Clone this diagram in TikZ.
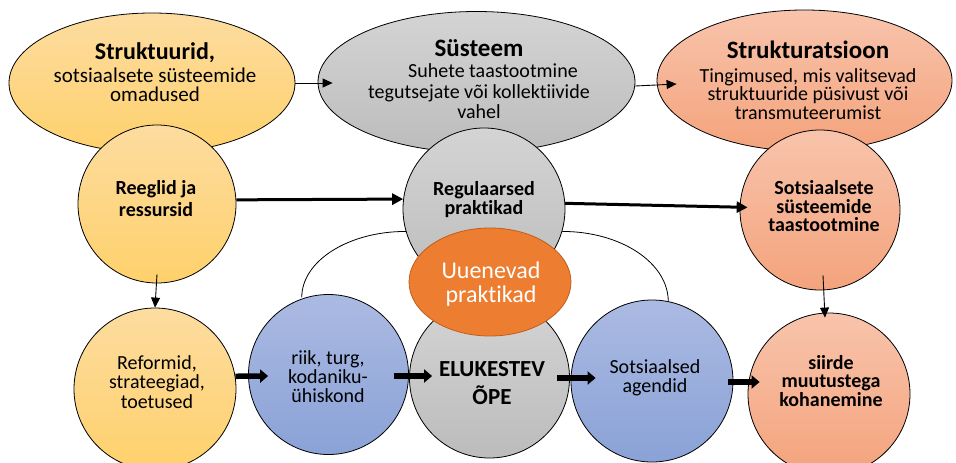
\documentclass[tikz,border=0pt]{standalone}
\usepackage{fontspec}
\setmainfont{Carlito}[Ligatures={NoCommon,NoContextual}]
\usetikzlibrary{shapes.geometric,arrows.meta,calc}
\pgfdeclarelayer{back}
\pgfsetlayers{back,main}

\definecolor{ylwT}{HTML}{FCDCA0}
\definecolor{ylwB}{HTML}{FFD16C}
\definecolor{gryT}{HTML}{D4D4D4}
\definecolor{gryB}{HTML}{BCBCBC}
\definecolor{slmT}{HTML}{F8C4AC}
\definecolor{slmB}{HTML}{F4A37C}
\definecolor{bluT}{HTML}{ABBAE2}
\definecolor{bluB}{HTML}{8AA2D7}
\definecolor{orgFill}{HTML}{ED7D31}
\definecolor{orgLine}{HTML}{C05E1C}

% font size with fixed baseline distance
\newcommand{\setfs}[2]{\fontsize{#1}{#2}\selectfont\lineskiplimit=-20pt\relax}

\begin{document}
\begin{tikzpicture}[x=1pt,y=-1pt,
  outline/.style={draw=black,line width=0.8pt,inner sep=0pt},
  oval/.style={outline,ellipse},
  disc/.style={outline,circle},
  yel/.style={top color=ylwT,bottom color=ylwB},
  gry/.style={top color=gryT,bottom color=gryB},
  slm/.style={top color=slmT,bottom color=slmB},
  blu/.style={top color=bluT,bottom color=bluB},
  lbl/.style={align=center,inner sep=0pt,text=black},
  thinarrow/.style={line width=0.9pt,-{Triangle[length=10pt,width=9pt]}},
  midarrow/.style={line width=3pt,-{Triangle[length=11pt,width=11pt]}},
  bigarrow/.style={line width=5.5pt,-{Triangle[length=8pt,width=13pt]}},
  arcline/.style={line width=0.8pt}
]
\useasboundingbox (0,0) rectangle (956,463);

% ---- top row: concepts ----
\node[oval,yel,minimum width=286pt,minimum height=140pt] (struk) at (152,83) {};
\node[oval,gry,minimum width=317pt,minimum height=141pt] (sys) at (476.5,82) {};
\node[oval,slm,minimum width=295pt,minimum height=141pt] (strat) at (804.5,80.5) {};

% ---- middle row ----
\node[disc,yel,minimum size=158pt] (reeg) at (157,204) {};
\node[disc,gry,minimum size=162pt] (regu) at (484,209) {};
\node[disc,slm,minimum size=160pt] (sots) at (820,210) {};

% feedback arcs behind the circles
\begin{pgfonlayer}{back}
\draw[arcline] (regu.196) arc[start angle=90,end angle=180,x radius=104pt,y radius=66pt];
\draw[arcline] (regu.-16) arc[start angle=90,end angle=0,x radius=106pt,y radius=70pt];
\end{pgfonlayer}

% ---- bottom row ----
\node[disc,yel,minimum size=162pt] (reform) at (155,389) {};
\node[disc,blu,minimum size=160pt] (riik) at (328.5,374.5) {};
\node[disc,gry,minimum size=160pt] (elu) at (489.5,378) {};
\node[disc,blu,minimum size=162pt] (agent) at (652,381) {};
\node[disc,slm,minimum size=162pt] (siirde) at (829,394) {};

% emerging practices
\node[ellipse,draw=orgLine,line width=0.8pt,fill=orgFill,inner sep=0pt,
      minimum width=162pt,minimum height=108pt] (uuen) at (490,282) {};

% ---- texts ----
\node[lbl,font=\setfs{21}{19.5}] (t-struk) at (155,72)
  {{\setfs{24}{24}\bfseries Struktuurid,}\\[3.5pt] sotsiaalsete süsteemide\\ omadused};
\node[lbl,font=\setfs{20}{20.5}] (t-sys) at (479,79.5)
  {{\setfs{25}{25}\bfseries Süsteem}\\[0.5pt] \hspace*{28pt}Suhete taastootmine\\ tegutsejate või kollektiivide\\ vahel};
\node[lbl,font=\setfs{20}{18.3}] (t-strat) at (808,80)
  {{\setfs{25}{25}\bfseries Strukturatsioon}\\[6pt] Tingimused, mis valitsevad\\ struktuuride püsivust või\\ transmuteerumist};

\node[lbl,font=\bfseries\setfs{20}{22}] (t-reeg) at (156,199) {Reeglid ja\\ ressursid};
\node[lbl,font=\bfseries\setfs{20}{19}] (t-regu) at (484,199.5) {Regulaarsed\\ praktikad};
\node[lbl,font=\bfseries\setfs{20}{18.5}] (t-sots) at (824,206.5) {Sotsiaalsete\\ süsteemide\\ taastootmine};
\node[lbl,font=\setfs{24}{24},text=white] (t-uuen) at (491,284) {Uuenevad\\ praktikad};

\node[lbl,font=\setfs{20}{19.5}] (t-reform) at (157,382) {Reformid,\\ strateegiad,\\ toetused};
\node[lbl,font=\setfs{20}{19}] (t-riik) at (328,377) {riik, turg,\\ kodaniku-\\ ühiskond};
\node[lbl,font=\bfseries\setfs{23}{28}] (t-elu) at (492,383.5) {ELUKESTEV\\ ÕPE};
\node[lbl,font=\setfs{20}{19}] (t-agent) at (655,377.5) {Sotsiaalsed\\ agendid};
\node[lbl,font=\bfseries\setfs{20}{18.6}] (t-siirde) at (831,381) {siirde\\ muutustega\\ kohanemine};

% ---- connectors ----
\draw[thinarrow] (struk.east) -- ($(sys.west)+(15,1)$);
\draw[thinarrow] ($(sys.east)+(0,4)$) -- ($(strat.west)+(20,3.5)$);
\draw[midarrow] (reeg.3) -- (regu.173);
\draw[midarrow,shorten >=-8pt] (regu.4) -- (sots.178);
\draw[thinarrow] ([yshift=9pt]reeg.south) -- (reform.north);
\draw[thinarrow] ($(sots.south)+(3,-15)$) -- ($(siirde.north)+(-4,5)$);

\draw[bigarrow] (reform.9) -- ($(riik.west)+(20,1.5)$);
\draw[bigarrow] ($(riik.east)+(-15,1.5)$) -- ($(elu.west)+(23,-2)$);
\draw[bigarrow] ($(elu.east)+(-12.5,0)$) -- ($(agent.west)+(25,-3)$);
\draw[bigarrow] ($(agent.east)+(-5,1)$) -- ($(siirde.west)+(12,-12)$);
\end{tikzpicture}
\end{document}
